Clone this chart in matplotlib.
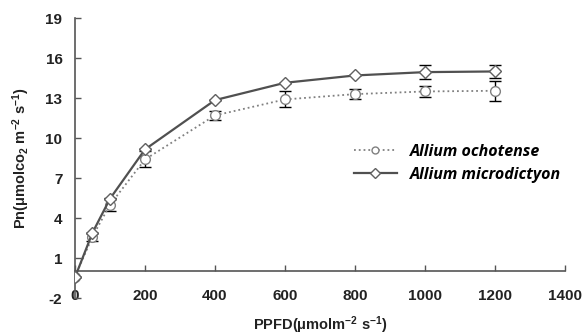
import matplotlib
matplotlib.use("Agg")
import matplotlib.pyplot as plt

plt.rcParams["axes.unicode_minus"] = False
plt.rcParams["mathtext.fontset"] = "custom"
plt.rcParams["mathtext.rm"] = "Liberation Sans:bold"
plt.rcParams["mathtext.it"] = "Liberation Sans:bold"
plt.rcParams["mathtext.bf"] = "Liberation Sans:bold"

# light intensity levels (PPFD)
ppfd = [0, 50, 100, 200, 400, 600, 800, 1000, 1200]

# net photosynthetic rate
pn_ochotense = [-0.4, 2.6, 5.0, 8.4, 11.7, 12.9, 13.3, 13.5, 13.55]
err_ochotense = [0.0, 0.3, 0.5, 0.6, 0.35, 0.6, 0.35, 0.4, 0.75]
pn_microdictyon = [-0.45, 2.9, 5.45, 9.15, 12.85, 14.15, 14.7, 14.95, 15.0]
err_microdictyon = [0.0, 0.0, 0.0, 0.0, 0.0, 0.0, 0.0, 0.55, 0.5]

y_ticks = [-2, 1, 4, 7, 10, 13, 16, 19]
x_ticks = [0, 200, 400, 600, 800, 1000, 1200, 1400]

fig = plt.figure(figsize=(5.83, 3.36), dpi=100)
ax = fig.add_axes([0.1286, 0.113, 0.8405, 0.833])

ax.errorbar(ppfd, pn_ochotense, yerr=err_ochotense, color="#808080", linestyle=":",
            linewidth=1.3, marker="o", markersize=7, markerfacecolor="white",
            markeredgecolor="#808080", markeredgewidth=1.0, ecolor="black",
            elinewidth=1.0, capsize=4, label="Allium ochotense", zorder=3)
ax.errorbar(ppfd, pn_microdictyon, yerr=err_microdictyon, color="#505050", linestyle="-",
            linewidth=1.6, marker="D", markersize=6, markerfacecolor="white",
            markeredgecolor="#606060", markeredgewidth=1.0, ecolor="black",
            elinewidth=1.0, capsize=4, label="Allium microdictyon", zorder=4)

ax.set_xlim(0, 1400)
ax.set_ylim(-2, 19)
ax.set_xticks(x_ticks)
ax.set_yticks(y_ticks)

for s in ["top", "right"]:
    ax.spines[s].set_visible(False)
ax.spines["bottom"].set_position(("data", 0))
for s in ["left", "bottom"]:
    ax.spines[s].set_color("#555555")
    ax.spines[s].set_linewidth(1.2)

ax.tick_params(axis="both", direction="in", length=4, color="#555555", width=1)
ax.tick_params(axis="x", pad=13)
ax.tick_params(axis="y", pad=9)
for lab in ax.get_xticklabels() + ax.get_yticklabels():
    lab.set_family("Liberation Sans")
    lab.set_fontweight("bold")
    lab.set_fontsize(11)
    lab.set_color("#222222")

ax.set_ylabel("Pn(μmolco$_2$ m$^{-2}$ s$^{-1}$)", family="Liberation Sans",
              fontweight="bold", fontsize=10.5, color="#222222", labelpad=10)
ax.set_xlabel("PPFD(μmolm$^{-2}$ s$^{-1}$)", family="Liberation Sans",
              fontweight="bold", fontsize=10.5, color="#222222", labelpad=8)

handles, labels = ax.get_legend_handles_labels()
handles = [h[0] for h in handles]
leg = ax.legend(handles, labels, loc="upper left", bbox_to_anchor=(0.553, 0.58),
                frameon=False, handlelength=2.7, handletextpad=0.8,
                labelspacing=0.45, borderpad=0,
                prop={"family": "Open Sans", "weight": "bold", "style": "italic", "size": 11.5})
for h in leg.legend_handles:
    h.set_markersize(5)

fig.savefig("out.png", dpi=100)
